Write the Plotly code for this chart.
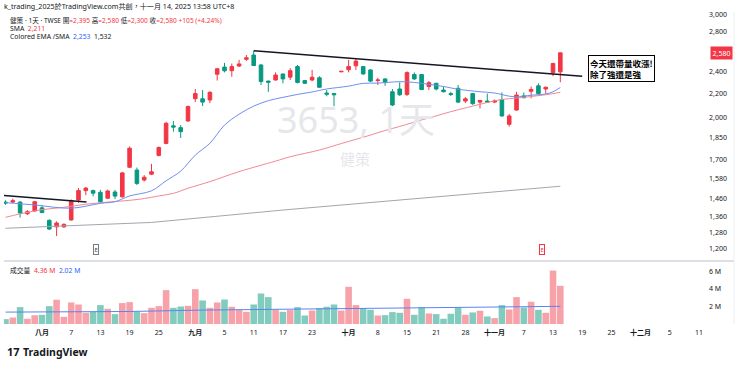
import plotly.graph_objects as go

# ---------------- data ----------------
dates = ["07-25", "07-28", "07-29", "07-30", "07-31",
         "08-01", "08-04", "08-05", "08-06", "08-07", "08-08", "08-11", "08-12", "08-13", "08-14",
         "08-15", "08-18", "08-19", "08-20", "08-21", "08-22", "08-25", "08-26", "08-27", "08-28",
         "08-29",
         "09-01", "09-02", "09-03", "09-04", "09-05", "09-08", "09-09", "09-10", "09-11", "09-12",
         "09-15", "09-16", "09-17", "09-18", "09-19", "09-22", "09-23", "09-24", "09-25", "09-26",
         "09-30",
         "10-01", "10-02", "10-03", "10-07", "10-08", "10-09", "10-13", "10-14", "10-15", "10-16",
         "10-17", "10-20", "10-21", "10-22", "10-23", "10-27", "10-28", "10-29", "10-30", "10-31",
         "11-03", "11-04", "11-05", "11-06", "11-07", "11-10", "11-11", "11-12", "11-13", "11-14"]

opens = [1440, 1440, 1440, 1376, 1391, 1408, 1341, 1307, 1307, 1343, 1452, 1506, 1506, 1496, 1462,
         1498, 1470, 1650, 1632, 1570, 1606, 1728, 1811, 1940, 1926, 1977,
         2156, 2156, 2146, 2373, 2440, 2406, 2450, 2515, 2558, 2460, 2310, 2320, 2375, 2346, 2445,
         2315, 2320, 2340, 2205, 2200, 2395,
         2415, 2452, 2445, 2413, 2315, 2330, 2216, 2240, 2193, 2370, 2370, 2262, 2290, 2231, 2200,
         2246, 2137, 2200, 2128, 2137,
         2128, 2150, 1951, 2063, 2180, 2220, 2268, 2240, 2388, 2395]
highs = [1450, 1460, 1445, 1396, 1447, 1424, 1346, 1336, 1325, 1455, 1521, 1527, 1512, 1510, 1512,
         1510, 1620, 1790, 1648, 1600, 1672, 1790, 1970, 1977, 1946, 2100,
         2240, 2231, 2220, 2430, 2480, 2474, 2509, 2558, 2600, 2470, 2315, 2390, 2380, 2430, 2460,
         2320, 2413, 2355, 2231, 2205, 2400,
         2510, 2525, 2450, 2420, 2340, 2335, 2240, 2300, 2400, 2390, 2375, 2310, 2295, 2260, 2215,
         2275, 2170, 2205, 2146, 2200,
         2150, 2210, 2032, 2216, 2210, 2262, 2290, 2262, 2480, 2580]
lows = [1425, 1435, 1355, 1369, 1387, 1380, 1291, 1261, 1302, 1339, 1436, 1480, 1473, 1436, 1457,
        1457, 1465, 1645, 1539, 1560, 1600, 1722, 1805, 1896, 1850, 1970,
        2128, 2095, 2120, 2315, 2390, 2350, 2440, 2500, 2450, 2275, 2215, 2315, 2290, 2320, 2290,
        2285, 2308, 2250, 2177, 2095, 2395,
        2390, 2413, 2370, 2300, 2275, 2268, 2095, 2180, 2180, 2320, 2230, 2231, 2228, 2210, 2180,
        2120, 2120, 2105, 2076, 2125,
        2120, 2010, 1934, 2058, 2160, 2160, 2190, 2200, 2355, 2300]
closes = [1435, 1448, 1380, 1387, 1442, 1382, 1296, 1327, 1320, 1448, 1506, 1521, 1491, 1442, 1504,
          1474, 1614, 1777, 1549, 1587, 1621, 1782, 1959, 1930, 1896, 2091,
          2200, 2128, 2211, 2424, 2405, 2445, 2470, 2530, 2455, 2306, 2300, 2366, 2330, 2406, 2298,
          2290, 2345, 2255, 2195, 2190, 2400,
          2445, 2498, 2375, 2310, 2320, 2300, 2104, 2190, 2388, 2330, 2235, 2296, 2240, 2216, 2192,
          2128, 2156, 2115, 2142, 2128,
          2137, 2016, 2016, 2188, 2165, 2236, 2200, 2255, 2475, 2580]
volume_m = [0.56, 0.74, 1.93, 0.60, 1.00, 1.05, 2.04, 2.77, 0.82, 2.46, 2.23, 1.28, 1.39, 2.16, 1.74,
            1.13, 2.39, 2.50, 1.39, 1.24, 1.85, 2.04, 3.87, 1.85, 2.00, 2.08,
            3.98, 2.69, 1.85, 2.46, 2.80, 1.97, 1.62, 1.39, 2.23, 3.49, 3.07, 1.62, 1.39, 1.59, 1.93,
            0.97, 1.54, 1.82, 1.97, 2.23, 1.54,
            4.25, 2.16, 1.82, 1.62, 0.97, 1.01, 1.36, 1.28, 2.88, 1.05, 1.93, 1.20, 1.13, 0.60, 1.17,
            1.89, 1.05, 1.32, 1.51, 0.86,
            0.67, 2.16, 1.66, 3.07, 1.89, 2.54, 1.62, 1.28, 6.11, 4.36]

# moving averages read at individual bars (bar index, value)
ema_idx = [0, 4, 9, 13, 15, 17, 20, 22, 24, 26, 28, 30, 32, 34, 36, 38, 40, 42, 44, 47, 49, 51,
           54, 56, 58, 60, 62, 65, 67, 69, 70, 72, 74, 75, 76]
ema_val = [1437, 1424, 1406, 1433, 1442, 1475, 1505, 1565, 1625, 1730, 1812, 1945, 2030, 2095,
           2140, 2168, 2193, 2214, 2240, 2265, 2290, 2292, 2305, 2298, 2281, 2262, 2238, 2216,
           2205, 2178, 2174, 2186, 2197, 2216, 2253]
sma_idx = [0, 2, 5, 8, 11, 14, 17, 19, 21, 23, 25, 28, 32, 37, 39, 43, 46, 48, 50, 52, 54, 57,
           58, 61, 64, 66, 68, 70, 72, 74, 76]
sma_val = [1357, 1375, 1398, 1411, 1428, 1440, 1450, 1460, 1475, 1490, 1520, 1560, 1622, 1690,
           1719, 1765, 1810, 1840, 1871, 1905, 1935, 1985, 2000, 2050, 2095, 2125, 2150, 2162,
           2175, 2190, 2211]
long_idx = [0, 20, 38, 57, 76]
long_val = [1300, 1330, 1396, 1463, 1532]
vol_ma_idx = [0, 8, 17, 27, 36, 45, 50, 59, 68, 76]
vol_ma_val = [1.36, 1.36, 1.43, 1.59, 1.66, 1.77, 1.82, 1.89, 1.93, 2.02]

# drawn trend lines (bar index, price)
trend_long_idx = [34, 79]
trend_long_val = [2600, 2354]
trend_short_idx = [-0.2, 11.1]
trend_short_val = [1477, 1441]

tick_idx = [5, 9, 13, 17, 21, 26, 30, 34, 38, 42, 47, 51, 55, 59, 63, 67, 71, 75, 79, 83, 87, 91, 95]
tick_text = ["八月", "7", "13", "19", "25", "九月", "5", "11", "17", "23", "十月", "8", "15", "21",
             "28", "十一月", "7", "13", "19", "25", "十二月", "5", "11"]
price_ticks = [1200, 1280, 1360, 1460, 1580, 1700, 1850, 2000, 2200, 2400, 2800, 3000]
vol_ticks = [2, 4, 6]

# ---------------- styling ----------------
UP = "#f23645"
DOWN = "#089981"
UP_VOL = "#f7a1a9"
DOWN_VOL = "#82cbbf"
TXT = "#131722"
FONT = "Noto Sans, Noto Sans CJK TC, sans-serif"

W, H = 740, 367
ML, MR, MT, MB = 4, 32, 12, 43
PW, PH = W - ML - MR, H - MT - MB


def px(xp):
    return (xp - ML) / PW


def py(yp):
    return (H - MB - yp) / PH


x = list(range(len(dates)))
vol_colors = [UP_VOL if (c > o or (c == o and i > 0 and c > closes[i - 1])) else DOWN_VOL
              for i, (o, c) in enumerate(zip(opens, closes))]

fig = go.Figure()

fig.add_trace(go.Scatter(x=long_idx, y=long_val, mode="lines",
                         line=dict(color="#a3a6af", width=1), yaxis="y", hoverinfo="skip"))
fig.add_trace(go.Scatter(x=sma_idx, y=sma_val, mode="lines", line_shape="spline",
                         line=dict(color="#f08a93", width=1), yaxis="y", hoverinfo="skip"))
fig.add_trace(go.Scatter(x=ema_idx, y=ema_val, mode="lines", line_shape="spline",
                         line=dict(color="#6d8ff0", width=1), yaxis="y", hoverinfo="skip"))
fig.add_trace(go.Scatter(x=trend_short_idx, y=trend_short_val, mode="lines",
                         line=dict(color="#131722", width=1.5), yaxis="y", hoverinfo="skip"))
fig.add_trace(go.Scatter(x=trend_long_idx, y=trend_long_val, mode="lines",
                         line=dict(color="#131722", width=1.5), yaxis="y", hoverinfo="skip"))

fig.add_trace(go.Candlestick(
    x=x, open=opens, high=highs, low=lows, close=closes,
    increasing=dict(line=dict(color=UP, width=1), fillcolor=UP),
    decreasing=dict(line=dict(color=DOWN, width=1), fillcolor=DOWN),
    whiskerwidth=0, xaxis="x", yaxis="y"))

fig.add_trace(go.Bar(x=x, y=volume_m, marker=dict(color=vol_colors, line=dict(width=0)),
                     xaxis="x", yaxis="y2"))
fig.add_trace(go.Scatter(x=vol_ma_idx, y=vol_ma_val, mode="lines",
                         line=dict(color="#5b84f0", width=1), xaxis="x", yaxis="y2",
                         hoverinfo="skip"))

fig.update_layout(
    width=W, height=H,
    margin=dict(l=ML, r=MR, t=MT, b=MB),
    paper_bgcolor="white", plot_bgcolor="white",
    showlegend=False, bargap=0.1,
    font=dict(family=FONT, color=TXT, size=7),
    xaxis=dict(range=[-0.205, 96.23], anchor="y2", showgrid=False, zeroline=False,
               tickvals=tick_idx,
               ticktext=[("<b>%s</b>" % t) if "月" in t else t for t in tick_text],
               ticks="", tickfont=dict(size=7, color=TXT), ticklabelstandoff=3,
               rangeslider=dict(visible=False), fixedrange=True),
    yaxis=dict(type="log", range=[3.06013, 3.48085], domain=[py(260), 1.0], side="right",
               showgrid=False, zeroline=False, tickvals=price_ticks,
               ticktext=["{:,}".format(v) for v in price_ticks], ticks="",
               tickfont=dict(size=7, color=TXT)),
    yaxis2=dict(range=[0, 7.2], domain=[0, py(261)], side="right", showgrid=False,
                zeroline=False, tickvals=vol_ticks, ticktext=["%d M" % v for v in vol_ticks],
                ticks="", tickfont=dict(size=7, color=TXT)),
)

shapes = [
    dict(type="line", xref="paper", yref="paper", x0=px(ML), x1=px(734), y0=py(261), y1=py(261),
         line=dict(color="#d1d4dc", width=1.5)),
    dict(type="line", xref="paper", yref="paper", x0=px(734), x1=px(734), y0=py(324), y1=py(12),
         line=dict(color="#eceef2", width=1)),
]
fig.update_layout(shapes=shapes)

ann = []


def text(xp, yp, s, size=7, color=TXT, xanchor="left", **kw):
    ann.append(dict(xref="paper", yref="paper", x=px(xp), y=py(yp), text=s, showarrow=False,
                    xanchor=xanchor, yanchor="middle", font=dict(size=size, color=color,
                                                                 family=FONT), **kw))


def red(s):
    return '<span style="color:%s">%s</span>' % (UP, s)


def blue(s):
    return '<span style="color:#2962ff">%s</span>' % s


text(2, 6, "k_trading_2025於TradingView.com共創，十一月 14, 2025 13:58 UTC+8", size=7.1)
text(8, 20, "健策 · 1天 · TWSE 開" + red("=2,395") + " 高" + red("=2,580") + " 低" + red("=2,300")
     + " 收" + red("=2,580") + " " + red("+105 (+4.24%)"), size=6.6)
text(8, 28.5, "SMA  " + red("2,211"), size=6.8)
text(8, 36.5, "Colored EMA /SMA  " + blue("2,253") + "  1,532", size=6.8)
text(8, 270, "成交量  " + red("4.36 M") + "  " + blue("2.02 M"), size=6.8)

# watermark
text(356, 119, "3653, 1天", size=36, color="#e6e7ea", xanchor="center")
text(355, 159, "健策", size=15, color="#e6e7ea", xanchor="center")

# callout box
ann.append(dict(xref="paper", yref="paper", x=px(588), y=py(55), xanchor="left", yanchor="top",
                text="<b>今天還帶量收漲!<br>除了強還是強</b>", showarrow=False, align="left",
                bordercolor="#000000", borderwidth=1, borderpad=1, bgcolor="white",
                font=dict(size=8.5, color="#000000", family="Noto Sans CJK TC")))

# last price badge
ann.append(dict(xref="paper", yref="paper", x=px(710), y=py(53), xanchor="left",
                yanchor="middle", text="2,580", showarrow=False, bgcolor=UP, borderpad=1.5,
                font=dict(size=7, color="white", family=FONT)))

# earnings markers
ann.append(dict(xref="paper", yref="paper", x=px(92.5), y=py(254.5), text="E", showarrow=False,
                bordercolor="#787b86", borderwidth=1, borderpad=0.5, bgcolor="white",
                font=dict(size=6, color="#434651", family=FONT)))
ann.append(dict(xref="paper", yref="paper", x=px(545), y=py(254.5), text="E", showarrow=False,
                bordercolor=UP, borderwidth=1, borderpad=0.5, bgcolor="white",
                font=dict(size=6, color=UP, family=FONT)))

# TradingView logo
text(5, 352, "<b>17</b>", size=11, color=TXT)
text(21, 352, "<b>TradingView</b>", size=10.5, color=TXT)

fig.update_layout(annotations=ann)
fig.write_html("out.html", config={"displayModeBar": False},
               post_script="document.body.style.margin='0';document.body.style.padding='0';")
